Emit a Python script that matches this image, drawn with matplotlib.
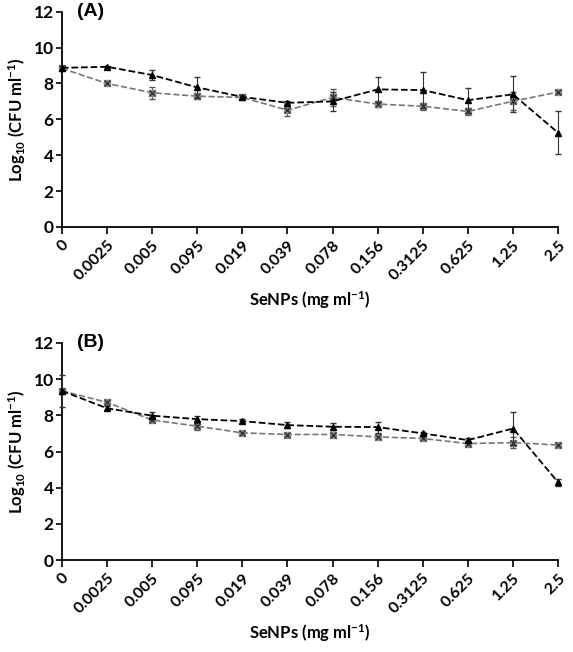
import matplotlib
matplotlib.use("Agg")
import matplotlib.pyplot as plt
import numpy as np

plt.rcParams["font.family"] = ["Lato", "DejaVu Sans"]
plt.rcParams["mathtext.fontset"] = "custom"
plt.rcParams["mathtext.rm"] = "Lato:bold"
plt.rcParams["mathtext.it"] = "Lato:bold"
plt.rcParams["mathtext.bf"] = "Lato:bold"

conc_labels = ["0", "0.0025", "0.005", "0.095", "0.019", "0.039", "0.078",
               "0.156", "0.3125", "0.625", "1.25", "2.5"]

# panel A
a_tri = [8.87, 8.93, 8.47, 7.78, 7.25, 6.92, 7.0, 7.67, 7.63, 7.07, 7.39, 5.25]
a_tri_err = [0.1, 0.05, 0.3, 0.6, 0.1, 0.1, 0.55, 0.7, 1.0, 0.7, 1.0, 1.2]
a_sq = [8.84, 8.0, 7.48, 7.29, 7.22, 6.51, 7.22, 6.85, 6.73, 6.44, 7.01, 7.52]
a_sq_err = [0.1, 0.1, 0.35, 0.15, 0.1, 0.35, 0.45, 0.15, 0.2, 0.2, 0.5, 0.1]

# panel B
b_tri = [9.35, 8.39, 7.98, 7.79, 7.68, 7.46, 7.37, 7.35, 7.0, 6.63, 7.27, 4.3]
b_tri_err = [0.9, 0.1, 0.2, 0.2, 0.1, 0.15, 0.2, 0.3, 0.1, 0.1, 0.9, 0.2]
b_sq = [9.35, 8.72, 7.74, 7.4, 7.03, 6.94, 6.94, 6.81, 6.72, 6.44, 6.49, 6.36]
b_sq_err = [0.1, 0.1, 0.1, 0.2, 0.1, 0.1, 0.1, 0.1, 0.1, 0.1, 0.3, 0.1]

fig = plt.figure(figsize=(5.73, 6.52), dpi=100)
ax_a = fig.add_axes([0.108, 0.652, 0.866, 0.330])
ax_b = fig.add_axes([0.108, 0.141, 0.866, 0.333])

x = np.arange(len(conc_labels))


def unclip(container):
    line, caps, bars = container
    line.set_clip_on(False)
    for c in caps:
        c.set_clip_on(False)
    for b in bars:
        b.set_clip_on(False)


def draw_panel(ax, tri, tri_err, sq, sq_err, tag):
    eb = ax.errorbar(x, sq, yerr=sq_err, color="#777777", ls="--", lw=1.2,
                     marker="s", ms=5, mfc="#8c8c8c", mec="#8c8c8c",
                     ecolor="#555555", elinewidth=0.8, capsize=2, zorder=2)
    unclip(eb)
    ax.plot(x, sq, ls="none", marker="x", ms=4, mec="#333333", mew=1.0,
            zorder=3, clip_on=False)
    eb = ax.errorbar(x, tri, yerr=tri_err, color="black", ls="--", lw=1.3,
                     marker="^", ms=5, mfc="black", mec="black",
                     ecolor="#333333", elinewidth=0.8, capsize=2, zorder=4)
    unclip(eb)
    ax.set_xlim(0, 11)
    ax.set_ylim(0, 12)
    ax.set_yticks(range(0, 13, 2))
    ax.set_xticks(x)
    ax.set_xticklabels(conc_labels, rotation=45, ha="right", rotation_mode="anchor",
                       fontsize=11.5, fontweight="bold")
    for lab in ax.get_yticklabels():
        lab.set_fontsize(12.5)
        lab.set_fontweight("bold")
    ax.spines["top"].set_visible(False)
    ax.spines["right"].set_visible(False)
    ax.spines["left"].set_linewidth(1.3)
    ax.spines["bottom"].set_linewidth(1.3)
    ax.tick_params(axis="x", direction="out", length=5, width=1.2, pad=3)
    ax.tick_params(axis="y", direction="out", length=4, width=1.2, pad=2)
    ax.set_ylabel(r"Log$_{10}$ (CFU ml$^{-1}$)", fontsize=12, fontweight="bold")
    ax.set_xlabel(r"SeNPs (mg ml$^{-1}$)", fontsize=12, fontweight="bold", labelpad=4)
    ax.text(0.03, 1.0, tag, transform=ax.transAxes, fontsize=14,
            fontweight="bold", family="Liberation Sans", va="center", ha="left")


draw_panel(ax_a, a_tri, a_tri_err, a_sq, a_sq_err, "(A)")
draw_panel(ax_b, b_tri, b_tri_err, b_sq, b_sq_err, "(B)")

fig.savefig("out.png", dpi=100)
